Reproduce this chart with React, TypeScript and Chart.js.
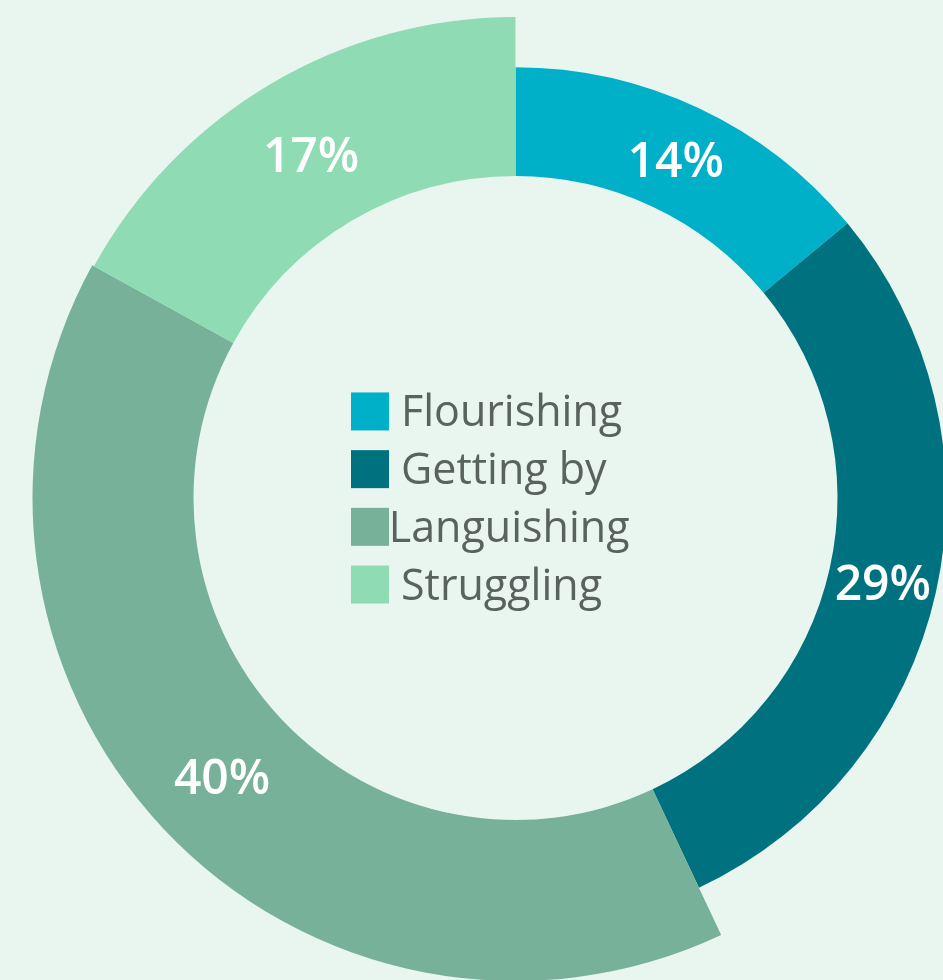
import React, { useEffect, useRef } from "react";
import { Chart, ArcElement, DoughnutController } from "chart.js";

Chart.register(ArcElement, DoughnutController);

// ---- data ----
const categories = ["Flourishing", "Getting by", "Languishing", "Struggling"];
const shares = [14, 29, 40, 17];

// ---- style ----
const colors = ["#00B0C9", "#00727F", "#77B19A", "#8FDBB3"];
const radiusScale = [0.892, 0.892, 1, 0.996];
const BG = "#E8F6EF";
const OUTER = 483;
const INNER = 322;

const varRadiusPlugin = {
  id: "varRadius",
  afterDatasetUpdate(chart: any, args: any) {
    const meta = chart.getDatasetMeta(args.index);
    meta.data.forEach((arc: any, i: number) => {
      arc.outerRadius = OUTER * radiusScale[i];
    });
  },
};

const labelPlugin = {
  id: "pctLabels",
  afterDatasetsDraw(chart: any) {
    const ctx = chart.ctx;
    const meta = chart.getDatasetMeta(0);
    ctx.save();
    ctx.fillStyle = "#FFFFFF";
    ctx.font = "600 48px 'Open Sans'";
    ctx.textAlign = "center";
    ctx.textBaseline = "alphabetic";
    meta.data.forEach((arc: any, i: number) => {
      const p = arc.getCenterPoint();
      ctx.fillText(`${shares[i]}%`, p.x, p.y + 20);
    });
    ctx.restore();
  },
};

const centerLegendPlugin = {
  id: "centerLegend",
  afterDraw(chart: any) {
    const ctx = chart.ctx;
    const area = chart.chartArea;
    const cx = (area.left + area.right) / 2;
    const cy = (area.top + area.bottom) / 2;
    const box = 38;
    const rowH = 57.7;
    const gap = 12;
    const left = cx - 164.5;
    const maxRight = cx + 114;
    const n = categories.length;
    ctx.save();
    ctx.font = "43px 'Open Sans'";
    ctx.textBaseline = "alphabetic";
    ctx.textAlign = "left";
    categories.forEach((c, i) => {
      const yc = cy + (i - (n - 1) / 2) * rowH;
      ctx.fillStyle = colors[i];
      ctx.fillRect(left, yc - box / 2, box, box);
      const w = ctx.measureText(c).width;
      let tx = left + box + gap;
      if (tx + w > maxRight) tx = maxRight - w;
      ctx.fillStyle = "#59625F";
      ctx.fillText(c, tx, yc + 15);
    });
    ctx.restore();
  },
};

export default function App() {
  const ref = useRef<HTMLCanvasElement>(null);
  useEffect(() => {
    document.body.style.margin = "0";
    document.body.style.background = BG;
    const chart = new Chart(ref.current!, {
      type: "doughnut",
      data: {
        labels: categories,
        datasets: [
          {
            data: shares,
            backgroundColor: colors,
            borderWidth: 0,
          },
        ],
      },
      options: {
        animation: false,
        responsive: true,
        maintainAspectRatio: false,
        radius: OUTER,
        cutout: `${(INNER / OUTER) * 100}%`,
        layout: { padding: 0 },
        plugins: {
          legend: { display: false },
          tooltip: { enabled: false },
        },
        events: [],
      },
      plugins: [varRadiusPlugin, labelPlugin, centerLegendPlugin],
    });
    return () => chart.destroy();
  }, []);
  return (
    <div
      style={{
        position: "fixed",
        left: 0,
        top: 0,
        width: 943,
        height: 980,
        overflow: "hidden",
        background: BG,
      }}
    >
      <div style={{ position: "absolute", left: 0, top: 0, width: 1031, height: 996 }}>
        <canvas ref={ref} />
      </div>
    </div>
  );
}
